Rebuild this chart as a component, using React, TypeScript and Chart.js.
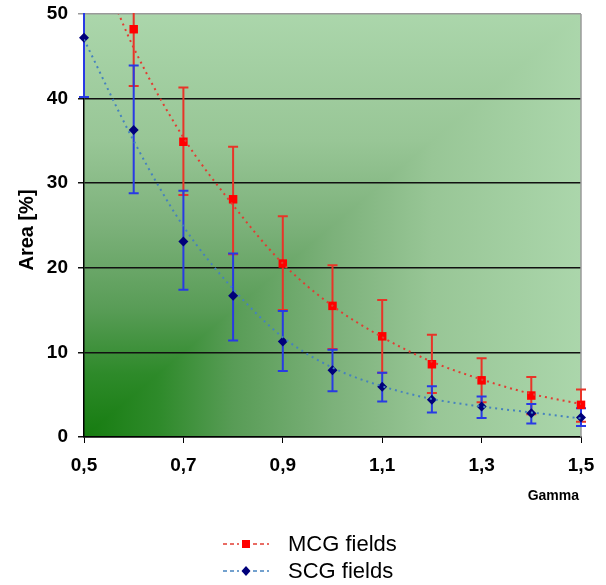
import React, { useEffect, useRef } from 'react';
import { Chart, registerables } from 'chart.js';

Chart.register(...registerables);

// ---- data ----
const gamma = [0.5, 0.6, 0.7, 0.8, 0.9, 1.0, 1.1, 1.2, 1.3, 1.4, 1.5];
const mcgMean = [null, 48.2, 34.9, 28.1, 20.5, 15.5, 11.9, 8.6, 6.7, 4.9, 3.8];
const mcgLow = [null, 41.5, 28.6, 21.6, 15.0, 10.4, 7.6, 5.2, 4.1, 2.7, 1.8];
const mcgHigh = [null, 54.9, 41.3, 34.3, 26.1, 20.3, 16.2, 12.1, 9.3, 7.1, 5.6];
const scgMean = [47.2, 36.3, 23.1, 16.7, 11.3, 7.9, 5.95, 4.4, 3.6, 2.8, 2.3];
const scgLow = [40.2, 28.8, 17.4, 11.4, 7.8, 5.4, 4.2, 2.9, 2.25, 1.6, 1.3];
const scgHigh = [54.2, 43.9, 29.1, 21.7, 14.9, 10.3, 7.6, 6.0, 4.8, 3.9, 3.4];
const mcgTrendX = [0.55, 0.6, 0.7, 0.8, 0.9, 1.0, 1.1, 1.2, 1.3, 1.4, 1.5];
const mcgTrend = [52.8, 46.0, 35.4, 27.4, 20.5, 15.5, 11.8, 8.9, 6.8, 5.1, 3.9];
const scgTrendX = [0.5, 0.6, 0.7, 0.8, 0.9, 1.0, 1.1, 1.2, 1.3, 1.4, 1.5];
const scgTrend = [47.0, 35.0, 24.9, 17.5, 11.8, 8.2, 6.0, 4.5, 3.6, 2.9, 2.2];
const xTickValues = [0.5, 0.7, 0.9, 1.1, 1.3, 1.5];
const xTickLabels = ['0,5', '0,7', '0,9', '1,1', '1,3', '1,5'];
const yTickValues = [0, 10, 20, 30, 40, 50];
const seriesNames = ['MCG fields', 'SCG fields'];
const yTitle = 'Area [%]';
const xTitle = 'Gamma';

const FONT = '"Liberation Sans", Arial, sans-serif';
const RED = '#ff0000';
const RED_BAR = 'rgb(232,52,40)';
const RED_TREND = 'rgb(226,60,50)';
const NAVY = '#00007a';
const BLUE_BAR = 'rgb(40,58,228)';
const BLUE_TREND = 'rgb(70,130,190)';

const toPts = (xs: number[], ys: (number | null)[]) =>
  xs.map((x, i) => ({ x, y: ys[i] })).filter((p) => p.y !== null) as { x: number; y: number }[];

const bgPlugin = {
  id: 'bg',
  beforeDraw(chart: any) {
    const { ctx, chartArea } = chart;
    const { left, top, right, bottom } = chartArea;
    const stops: [number, string][] = [
      [0, 'rgb(22,124,16)'],
      [0.15, 'rgb(46,138,42)'],
      [0.3, 'rgb(88,156,86)'],
      [0.5, 'rgb(124,177,122)'],
      [0.7, 'rgb(152,198,150)'],
      [1, 'rgb(171,214,171)'],
    ];
    ctx.save();
    const gv = ctx.createLinearGradient(0, bottom, 0, top);
    stops.forEach(([t, c]) => gv.addColorStop(t, c));
    ctx.fillStyle = gv;
    ctx.fillRect(left, top, right - left, bottom - top);
    ctx.beginPath();
    ctx.moveTo(left, bottom);
    ctx.lineTo(right, bottom);
    ctx.lineTo(right, top);
    ctx.closePath();
    ctx.clip();
    const gh = ctx.createLinearGradient(left, 0, right, 0);
    stops.forEach(([t, c]) => gh.addColorStop(t, c));
    ctx.fillStyle = gh;
    ctx.fillRect(left, top, right - left, bottom - top);
    ctx.restore();
  },
};

const errorBarPlugin = {
  id: 'errbars',
  beforeDatasetsDraw(chart: any) {
    const { ctx, chartArea, scales } = chart;
    const xs = scales.x;
    const ys = scales.y;
    ctx.save();
    // right border
    ctx.strokeStyle = '#9a9a9a';
    ctx.lineWidth = 1.5;
    ctx.beginPath();
    ctx.moveTo(chartArea.right, chartArea.top);
    ctx.lineTo(chartArea.right, chartArea.bottom);
    ctx.stroke();
    ctx.beginPath();
    ctx.rect(chartArea.left - 20, chartArea.top - 1, chartArea.right - chartArea.left + 40, chartArea.bottom - chartArea.top + 2);
    ctx.clip();
    const drawBars = (lows: (number | null)[], highs: (number | null)[], color: string) => {
      ctx.strokeStyle = color;
      ctx.lineWidth = 2;
      gamma.forEach((g, i) => {
        const lo = lows[i];
        const hi = highs[i];
        if (lo === null || hi === null) return;
        const px = xs.getPixelForValue(g);
        const py1 = ys.getPixelForValue(lo);
        const py2 = ys.getPixelForValue(hi);
        ctx.beginPath();
        ctx.moveTo(px, py1);
        ctx.lineTo(px, py2);
        ctx.moveTo(px - 5, py1);
        ctx.lineTo(px + 5, py1);
        ctx.moveTo(px - 5, py2);
        ctx.lineTo(px + 5, py2);
        ctx.stroke();
      });
    };
    drawBars(mcgLow, mcgHigh, RED_BAR);
    drawBars(scgLow, scgHigh, BLUE_BAR);
    ctx.restore();
  },
};

const textPlugin = {
  id: 'texts',
  afterDraw(chart: any) {
    const { ctx, chartArea } = chart;
    ctx.save();
    // y title
    ctx.fillStyle = '#000';
    ctx.font = `bold 20px ${FONT}`;
    ctx.textAlign = 'center';
    ctx.textBaseline = 'middle';
    ctx.translate(27, 230);
    ctx.rotate(-Math.PI / 2);
    ctx.fillText(yTitle, 0, 0);
    ctx.setTransform(1, 0, 0, 1, 0, 0);
    // x title
    ctx.font = `bold 14px ${FONT}`;
    ctx.textAlign = 'right';
    ctx.textBaseline = 'middle';
    ctx.fillText(xTitle, chartArea.right - 2, 496);
    // legend
    const items = [
      { name: seriesNames[0], line: RED_TREND, mark: RED, style: 'rect', y: 544 },
      { name: seriesNames[1], line: BLUE_TREND, mark: NAVY, style: 'diamond', y: 571 },
    ];
    items.forEach((it) => {
      ctx.strokeStyle = it.line;
      ctx.lineWidth = 1.5;
      ctx.setLineDash([4, 3]);
      ctx.beginPath();
      ctx.moveTo(223, it.y);
      ctx.lineTo(239, it.y);
      ctx.moveTo(253, it.y);
      ctx.lineTo(269, it.y);
      ctx.stroke();
      ctx.setLineDash([]);
      ctx.fillStyle = it.mark;
      ctx.beginPath();
      if (it.style === 'rect') {
        ctx.rect(242, it.y - 4, 8, 8);
      } else {
        ctx.moveTo(246, it.y - 5);
        ctx.lineTo(250.5, it.y);
        ctx.lineTo(246, it.y + 5);
        ctx.lineTo(241.5, it.y);
        ctx.closePath();
      }
      ctx.fill();
      ctx.fillStyle = '#000';
      ctx.font = `22px ${FONT}`;
      ctx.textAlign = 'left';
      ctx.textBaseline = 'middle';
      ctx.fillText(it.name, 288, it.y + 1);
    });
    ctx.restore();
  },
};

export default function App() {
  const ref = useRef<HTMLCanvasElement>(null);
  useEffect(() => {
    if (!ref.current) return;
    const chart = new Chart(ref.current, {
      type: 'scatter',
      data: {
        datasets: [
          {
            label: 'mcgTrend',
            data: toPts(mcgTrendX, mcgTrend),
            showLine: true,
            borderColor: RED_TREND,
            borderWidth: 2,
            borderDash: [2, 4],
            pointRadius: 0,
            cubicInterpolationMode: 'monotone',
            fill: false,
          },
          {
            label: 'scgTrend',
            data: toPts(scgTrendX, scgTrend),
            showLine: true,
            borderColor: BLUE_TREND,
            borderWidth: 2,
            borderDash: [2, 4],
            pointRadius: 0,
            cubicInterpolationMode: 'monotone',
            fill: false,
          },
          {
            label: seriesNames[1],
            data: toPts(gamma, scgMean),
            showLine: false,
            clip: false,
            pointStyle: 'rectRot',
            pointRadius: 5,
            backgroundColor: NAVY,
            borderColor: NAVY,
            borderWidth: 0,
          },
          {
            label: seriesNames[0],
            data: toPts(gamma, mcgMean),
            showLine: false,
            clip: false,
            pointStyle: 'rect',
            pointRadius: 6,
            backgroundColor: RED,
            borderColor: RED,
            borderWidth: 0,
          },
        ] as any,
      },
      options: {
        responsive: false,
        animation: false,
        devicePixelRatio: 1,
        layout: { padding: { top: 14, right: 25, left: 0, bottom: 0 } },
        plugins: { legend: { display: false }, tooltip: { enabled: false } },
        scales: {
          x: {
            type: 'linear',
            min: 0.5,
            max: 1.5,
            afterFit(scale: any) {
              scale.height = 148;
              scale.paddingLeft = 0;
              scale.paddingRight = 0;
            },
            afterBuildTicks(scale: any) {
              scale.ticks = xTickValues.map((v) => ({ value: v }));
            },
            ticks: {
              autoSkip: false,
              maxRotation: 0,
              padding: 11,
              color: '#000',
              font: { family: FONT, size: 19, weight: 'bold' },
              callback: (v: any) => {
                const i = xTickValues.findIndex((t) => Math.abs(t - Number(v)) < 1e-6);
                return i >= 0 ? xTickLabels[i] : '';
              },
            },
            grid: { drawOnChartArea: false, drawTicks: true, tickLength: 6, color: '#000', lineWidth: 1 },
            border: { display: true, color: '#000', width: 1.5 },
          },
          y: {
            type: 'linear',
            min: 0,
            max: 50,
            afterFit(scale: any) {
              scale.width = 84;
              scale.paddingTop = 0;
              scale.paddingBottom = 0;
            },
            afterBuildTicks(scale: any) {
              scale.ticks = yTickValues.map((v) => ({ value: v }));
            },
            ticks: {
              padding: 10,
              color: '#000',
              font: { family: FONT, size: 19, weight: 'bold' },
            },
            grid: {
              drawTicks: true,
              tickLength: 6,
              color: (c: any) => (c.tick && c.tick.value === 50 ? '#9a9a9a' : '#111'),
              lineWidth: 1.5,
            },
            border: { display: true, color: '#000', width: 1.5 },
          },
        },
      } as any,
      plugins: [bgPlugin, errorBarPlugin, textPlugin],
    });
    return () => chart.destroy();
  }, []);
  return (
    <div style={{ position: 'absolute', left: 0, top: 0, width: 606, height: 585, background: '#fff' }}>
      <canvas ref={ref} width={606} height={585} style={{ display: 'block' }} />
    </div>
  );
}
